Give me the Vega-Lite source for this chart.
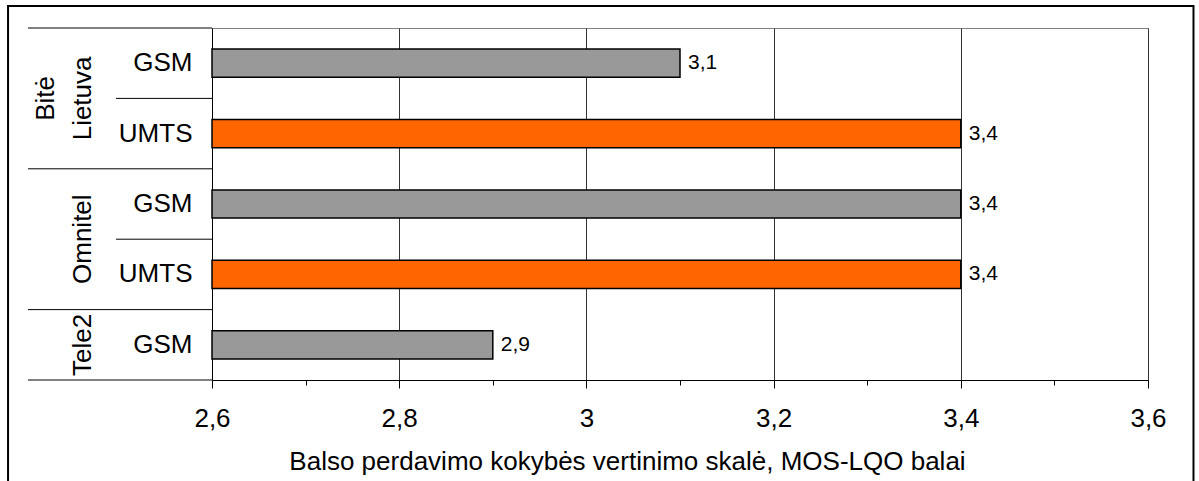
{
  "$schema": "https://vega.github.io/schema/vega-lite/v6.json",
  "width": 936,
  "height": 352,
  "autosize": {"type": "none"},
  "padding": {"left": 212, "top": 28, "right": 51, "bottom": 101},
  "background": "white",
  "config": {
    "font": "Liberation Sans",
    "view": {"stroke": "#808080", "strokeWidth": 1},
    "locale": {"number": {"decimal": ",", "thousands": " ", "grouping": [3], "currency": ["", " €"]}},
    "axis": {"labelFont": "Liberation Sans", "titleFont": "Liberation Sans", "labelColor": "#000", "titleColor": "#000"}
  },
  "datasets": {
    "bars": [
      {"key": "Bitė Lietuva GSM", "operator": "Bitė Lietuva", "tech": "GSM", "value": 3.1},
      {"key": "Bitė Lietuva UMTS", "operator": "Bitė Lietuva", "tech": "UMTS", "value": 3.4},
      {"key": "Omnitel GSM", "operator": "Omnitel", "tech": "GSM", "value": 3.4},
      {"key": "Omnitel UMTS", "operator": "Omnitel", "tech": "UMTS", "value": 3.4},
      {"key": "Tele2 GSM", "operator": "Tele2", "tech": "GSM", "value": 2.9}
    ],
    "seps": [
      {"key": "Bitė Lietuva GSM", "x0": 2.4034},
      {"key": "Bitė Lietuva UMTS", "x0": 2.4974},
      {"key": "Omnitel GSM", "x0": 2.4034},
      {"key": "Omnitel UMTS", "x0": 2.4974},
      {"key": "Tele2 GSM", "x0": 2.4034}
    ],
    "sepsBottom": [
      {"key": "Tele2 GSM", "x0": 2.4034}
    ],
    "groupsEdge": [
      {"key": "Bitė Lietuva GSM", "gx": 2.4226, "name": ["Bitė", "Lietuva"]},
      {"key": "Omnitel GSM", "gx": 2.462, "name": "Omnitel"}
    ],
    "groupsCenter": [
      {"key": "Tele2 GSM", "gx": 2.462, "name": "Tele2"}
    ],
    "frame": [
      {"fx": 2.3821, "fx2": 3.6486, "fy": 1.0625, "fy2": -0.3125}
    ]
  },
  "resolve": {"scale": {"y": "independent"}, "axis": {"x": "independent", "y": "independent"}},
  "layer": [
    {
      "data": {"name": "frame"},
      "mark": {"type": "rect", "filled": false, "stroke": "#000", "strokeWidth": 2, "clip": false},
      "encoding": {
        "x": {"field": "fx", "type": "quantitative", "scale": {"domain": [2.6, 3.6], "zero": false, "nice": false},
          "axis": {"orient": "bottom", "values": [2.7, 2.9, 3.1, 3.3, 3.5], "labels": false, "domain": false, "grid": false, "tickSize": 5, "tickColor": "#000", "title": null}},
        "x2": {"field": "fx2"},
        "y": {"field": "fy", "type": "quantitative", "scale": {"domain": [0, 1], "zero": false, "nice": false}, "axis": null},
        "y2": {"field": "fy2"}
      }
    },
    {
      "data": {"name": "seps"},
      "mark": {"type": "rule", "color": "#000", "strokeWidth": 1, "clip": false},
      "encoding": {
        "y": {"field": "key", "type": "nominal", "bandPosition": 0, "sort": null,
          "scale": {"type": "band", "domain": ["Bitė Lietuva GSM", "Bitė Lietuva UMTS", "Omnitel GSM", "Omnitel UMTS", "Tele2 GSM"], "paddingInner": 0, "paddingOuter": 0}, "axis": null},
        "x": {"field": "x0", "type": "quantitative", "scale": {"domain": [2.6, 3.6], "zero": false, "nice": false}, "axis": null},
        "x2": {"datum": 2.6}
      }
    },
    {
      "data": {"name": "sepsBottom"},
      "mark": {"type": "rule", "color": "#000", "strokeWidth": 1, "clip": false},
      "encoding": {
        "y": {"field": "key", "type": "nominal", "bandPosition": 1, "sort": null,
          "scale": {"type": "band", "domain": ["Bitė Lietuva GSM", "Bitė Lietuva UMTS", "Omnitel GSM", "Omnitel UMTS", "Tele2 GSM"], "paddingInner": 0, "paddingOuter": 0}, "axis": null},
        "x": {"field": "x0", "type": "quantitative", "scale": {"domain": [2.6, 3.6], "zero": false, "nice": false}, "axis": null},
        "x2": {"datum": 2.6}
      }
    },
    {
      "data": {"name": "bars"},
      "mark": {"type": "bar", "height": {"band": 0.4}, "stroke": "#000", "strokeWidth": 1.5, "clip": false},
      "encoding": {
        "y": {"field": "key", "type": "nominal", "sort": null,
          "scale": {"type": "band", "domain": ["Bitė Lietuva GSM", "Bitė Lietuva UMTS", "Omnitel GSM", "Omnitel UMTS", "Tele2 GSM"], "paddingInner": 0, "paddingOuter": 0},
          "axis": {"orient": "left", "title": null, "domainColor": "#000", "domainWidth": 1, "ticks": false, "tickSize": 0, "labelPadding": 20, "labelFontSize": 26, "labelExpr": "peek(split(datum.label, ' '))", "grid": false}},
        "x": {"field": "value", "type": "quantitative", "scale": {"domain": [2.6, 3.6], "zero": false, "nice": false},
          "axis": {"orient": "bottom", "values": [2.6, 2.8, 3.0, 3.2, 3.4, 3.6], "format": "~g", "labelFontSize": 26, "labelPadding": 17, "labelFlush": false, "labelOverlap": false, "tickSize": 8, "tickColor": "#000", "domainColor": "#000", "domainWidth": 1, "grid": true, "gridColor": "#333333", "gridWidth": 1,
            "title": "Balso perdavimo kokybės vertinimo skalė, MOS-LQO balai", "titleFontSize": 26, "titleFontWeight": "normal", "titleX": 415, "titleY": 68, "titleBaseline": "top", "titleAlign": "center"}},
        "x2": {"datum": 2.6},
        "color": {"field": "tech", "type": "nominal", "scale": {"domain": ["GSM", "UMTS"], "range": ["#999999", "#FF6600"]}, "legend": null}
      }
    },
    {
      "data": {"name": "bars"},
      "mark": {"type": "text", "align": "left", "baseline": "middle", "dx": 8, "fontSize": 21, "color": "#000", "clip": false},
      "encoding": {
        "y": {"field": "key", "type": "nominal", "sort": null,
          "scale": {"type": "band", "domain": ["Bitė Lietuva GSM", "Bitė Lietuva UMTS", "Omnitel GSM", "Omnitel UMTS", "Tele2 GSM"], "paddingInner": 0, "paddingOuter": 0}, "axis": null},
        "x": {"field": "value", "type": "quantitative", "scale": {"domain": [2.6, 3.6], "zero": false, "nice": false}, "axis": null},
        "text": {"field": "value", "type": "quantitative", "format": ".1f"}
      }
    },
    {
      "data": {"name": "groupsEdge"},
      "mark": {"type": "text", "align": "center", "baseline": "middle", "angle": 270, "fontSize": 26, "lineHeight": 37, "color": "#000", "clip": false},
      "encoding": {
        "y": {"field": "key", "type": "nominal", "bandPosition": 1, "sort": null,
          "scale": {"type": "band", "domain": ["Bitė Lietuva GSM", "Bitė Lietuva UMTS", "Omnitel GSM", "Omnitel UMTS", "Tele2 GSM"], "paddingInner": 0, "paddingOuter": 0}, "axis": null},
        "x": {"field": "gx", "type": "quantitative", "scale": {"domain": [2.6, 3.6], "zero": false, "nice": false}, "axis": null},
        "text": {"field": "name"}
      }
    },
    {
      "data": {"name": "groupsCenter"},
      "mark": {"type": "text", "align": "center", "baseline": "middle", "angle": 270, "fontSize": 26, "color": "#000", "clip": false},
      "encoding": {
        "y": {"field": "key", "type": "nominal", "bandPosition": 0.5, "sort": null,
          "scale": {"type": "band", "domain": ["Bitė Lietuva GSM", "Bitė Lietuva UMTS", "Omnitel GSM", "Omnitel UMTS", "Tele2 GSM"], "paddingInner": 0, "paddingOuter": 0}, "axis": null},
        "x": {"field": "gx", "type": "quantitative", "scale": {"domain": [2.6, 3.6], "zero": false, "nice": false}, "axis": null},
        "text": {"field": "name"}
      }
    }
  ]
}
